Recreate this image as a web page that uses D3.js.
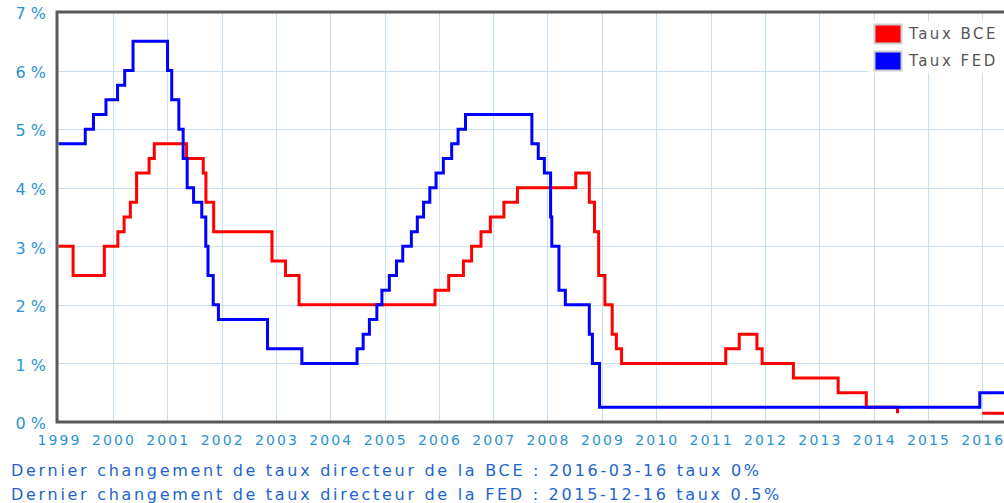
<!DOCTYPE html>
<head>
<meta charset="utf-8">
<style>
body { margin: 0; background: #fff; }
svg { display: block; }
.grid line { stroke: #c6e2f2; stroke-width: 1px; shape-rendering: crispEdges; }
.grid .domain { display: none; }
.xlab text { font: 14px "DejaVu Sans", sans-serif; fill: #2b93cf; letter-spacing: 2.1px; }
.ylab text { font: 16px "DejaVu Sans", sans-serif; fill: #2b93cf; }
.frame { fill: none; stroke: #595959; stroke-width: 3px; }
.rate { fill: none; stroke-width: 3px; stroke-linejoin: miter; }
.legend text { font: 15px "DejaVu Sans", sans-serif; fill: #555; letter-spacing: 2.5px; }
.note { font: 16px "DejaVu Sans", sans-serif; fill: #2264cf; letter-spacing: 2.7px; }
</style>
</head>
<body>
<svg width="1004" height="503"></svg>
<script src="https://cdn.jsdelivr.net/npm/d3@7"></script>
<script>

// taux directeur BCE (refi), trou dans les données entre mi-2014 et 2016
var bceDates = ["1999-01-01", "1999-04-09", "1999-11-05", "2000-02-04", "2000-03-17", "2000-04-28",
  "2000-06-09", "2000-09-01", "2000-10-06", "2001-05-11", "2001-08-31", "2001-09-18", "2001-11-09",
  "2002-12-06", "2003-03-07", "2003-06-06", "2005-12-06", "2006-03-08", "2006-06-15", "2006-08-09",
  "2006-10-11", "2006-12-13", "2007-03-14", "2007-06-13", "2008-07-09", "2008-10-08", "2008-11-12",
  "2008-12-10", "2009-01-21", "2009-03-11", "2009-04-08", "2009-05-13", "2011-04-13", "2011-07-13",
  "2011-11-09", "2011-12-14", "2012-07-11", "2013-05-08", "2013-11-13", "2014-06-11", "2014-06-12",
  "2016-01-01", "2017-01-01"];
var bceValues = [3.00, 2.50, 3.00, 3.25, 3.50, 3.75,
  4.25, 4.50, 4.75, 4.50, 4.25, 3.75, 3.25,
  2.75, 2.50, 2.00, 2.25, 2.50, 2.75, 3.00,
  3.25, 3.50, 3.75, 4.00, 4.25, 3.75, 3.25,
  2.50, 2.00, 1.50, 1.25, 1.00, 1.25, 1.50,
  1.25, 1.00, 0.75, 0.50, 0.25, 0.15, null,
  0.15, 0.15];

// taux directeur FED (fed funds target)
var fedDates = ["1999-01-01", "1999-06-30", "1999-08-24", "1999-11-16", "2000-02-02", "2000-03-21",
  "2000-05-16", "2001-01-03", "2001-01-31", "2001-03-20", "2001-04-18", "2001-05-15", "2001-06-27",
  "2001-08-21", "2001-09-17", "2001-10-02", "2001-11-06", "2001-12-11", "2002-11-06", "2003-06-25",
  "2004-06-30", "2004-08-10", "2004-09-21", "2004-11-10", "2004-12-14", "2005-02-02", "2005-03-22",
  "2005-05-03", "2005-06-30", "2005-08-09", "2005-09-20", "2005-11-01", "2005-12-13", "2006-01-31",
  "2006-03-28", "2006-05-10", "2006-06-29", "2007-09-18", "2007-10-31", "2007-12-11", "2008-01-22",
  "2008-01-30", "2008-03-18", "2008-04-30", "2008-10-08", "2008-10-29", "2008-12-16", "2015-12-16",
  "2017-01-01"];
var fedValues = [4.75, 5.00, 5.25, 5.50, 5.75, 6.00,
  6.50, 6.00, 5.50, 5.00, 4.50, 4.00, 3.75,
  3.50, 3.00, 2.50, 2.00, 1.75, 1.25, 1.00,
  1.25, 1.50, 1.75, 2.00, 2.25, 2.50, 2.75,
  3.00, 3.25, 3.50, 3.75, 4.00, 4.25, 4.50,
  4.75, 5.00, 5.25, 4.75, 4.50, 4.25, 3.50,
  3.00, 2.25, 2.00, 1.50, 1.00, 0.25, 0.50,
  0.50];

var years = [1999, 2000, 2001, 2002, 2003, 2004, 2005, 2006, 2007, 2008,
  2009, 2010, 2011, 2012, 2013, 2014, 2015, 2016];
var pctTicks = [0, 1, 2, 3, 4, 5, 6, 7];

var seriesNames = ["Taux BCE", "Taux FED"];
var seriesColors = ["#ff0000", "#0000ff"];

var notes = [
  "Dernier changement de taux directeur de la BCE : 2016-03-16 taux 0%",
  "Dernier changement de taux directeur de la FED : 2015-12-16 taux 0.5%"
];

var svg = d3.select("svg"),
    plotLeft = 57, plotTop = 12, plotBottom = 422, plotRight = 1004;

var parse = d3.timeParse("%Y-%m-%d");

var x = d3.scaleTime()
    .domain([new Date(1999, 0, 1), new Date(2017, 0, 1)])
    .range([58.5, 58.5 + 18 * 54.34]);

var y = d3.scaleLinear()
    .domain([0, 7])
    .range([plotBottom, plotTop]);

var yearDates = years.map(function(yr) { return new Date(yr, 0, 1); });

svg.append("rect").attr("width", 1004).attr("height", 503).attr("fill", "#fff");

// grille
svg.append("g")
    .attr("class", "grid")
    .attr("transform", "translate(0," + plotBottom + ")")
    .call(d3.axisBottom(x).tickValues(yearDates.slice(1)).tickSize(-(plotBottom - plotTop)).tickFormat(""));

svg.append("g")
    .attr("class", "grid")
    .attr("transform", "translate(" + plotLeft + ",0)")
    .call(d3.axisLeft(y).tickValues(pctTicks.slice(1, -1)).tickSize(-(plotRight - plotLeft)).tickFormat(""));

// étiquettes
var xAxis = svg.append("g")
    .attr("class", "xlab")
    .attr("transform", "translate(0," + (plotBottom + 1) + ")")
    .call(d3.axisBottom(x).tickValues(yearDates).tickSize(0).tickPadding(12).tickFormat(d3.timeFormat("%Y")));
xAxis.select(".domain").remove();
xAxis.selectAll("text").attr("dx", "0.6px");

var yAxis = svg.append("g")
    .attr("class", "ylab")
    .attr("transform", "translate(46,0)")
    .call(d3.axisLeft(y).tickValues(pctTicks).tickSize(0).tickPadding(0).tickFormat(function(d) { return d + " %"; }));
yAxis.select(".domain").remove();
yAxis.selectAll("text").attr("dy", "0.42em");

// courbes
svg.append("clipPath").attr("id", "plot")
  .append("rect").attr("x", plotLeft).attr("y", plotTop)
    .attr("width", plotRight - plotLeft).attr("height", plotBottom - plotTop);

var line = d3.line()
    .defined(function(d) { return d.v != null; })
    .x(function(d) { return x(d.date); })
    .y(function(d) { return y(d.v); })
    .curve(d3.curveStepAfter);

var series = [
  bceDates.map(function(d, i) { return { date: parse(d), v: bceValues[i] }; }),
  fedDates.map(function(d, i) { return { date: parse(d), v: fedValues[i] }; })
];

svg.append("g").attr("clip-path", "url(#plot)")
  .selectAll("path")
  .data(series)
  .enter().append("path")
    .attr("class", "rate")
    .attr("stroke", function(d, i) { return seriesColors[i]; })
    .attr("d", line);

// cadre
svg.append("path")
    .attr("class", "frame")
    .attr("d", "M" + (plotRight + 5) + "," + plotTop + "H" + plotLeft + "V" + plotBottom + "H" + (plotRight + 5));

// légende
var legend = svg.append("g").attr("class", "legend");
legend.append("rect")
    .attr("x", 868).attr("y", 21).attr("width", 140).attr("height", 52)
    .attr("fill", "#fff");
var item = legend.selectAll(".item")
    .data(seriesNames)
  .enter().append("g")
    .attr("class", "item")
    .attr("transform", function(d, i) { return "translate(874," + (24 + i * 27) + ")"; });
item.append("rect")
    .attr("x", 0.5).attr("y", 0.5).attr("width", 27).attr("height", 19)
    .attr("fill", function(d, i) { return seriesColors[i]; })
    .attr("stroke", "#cfcfcf").attr("stroke-width", 2);
item.append("text")
    .attr("x", 35).attr("y", 15)
    .text(function(d) { return d; });

// notes du bas
svg.selectAll(".note")
    .data(notes)
  .enter().append("text")
    .attr("class", "note")
    .attr("x", 11)
    .attr("y", function(d, i) { return 476 + i * 24; })
    .text(function(d) { return d; });

</script>
</body>
